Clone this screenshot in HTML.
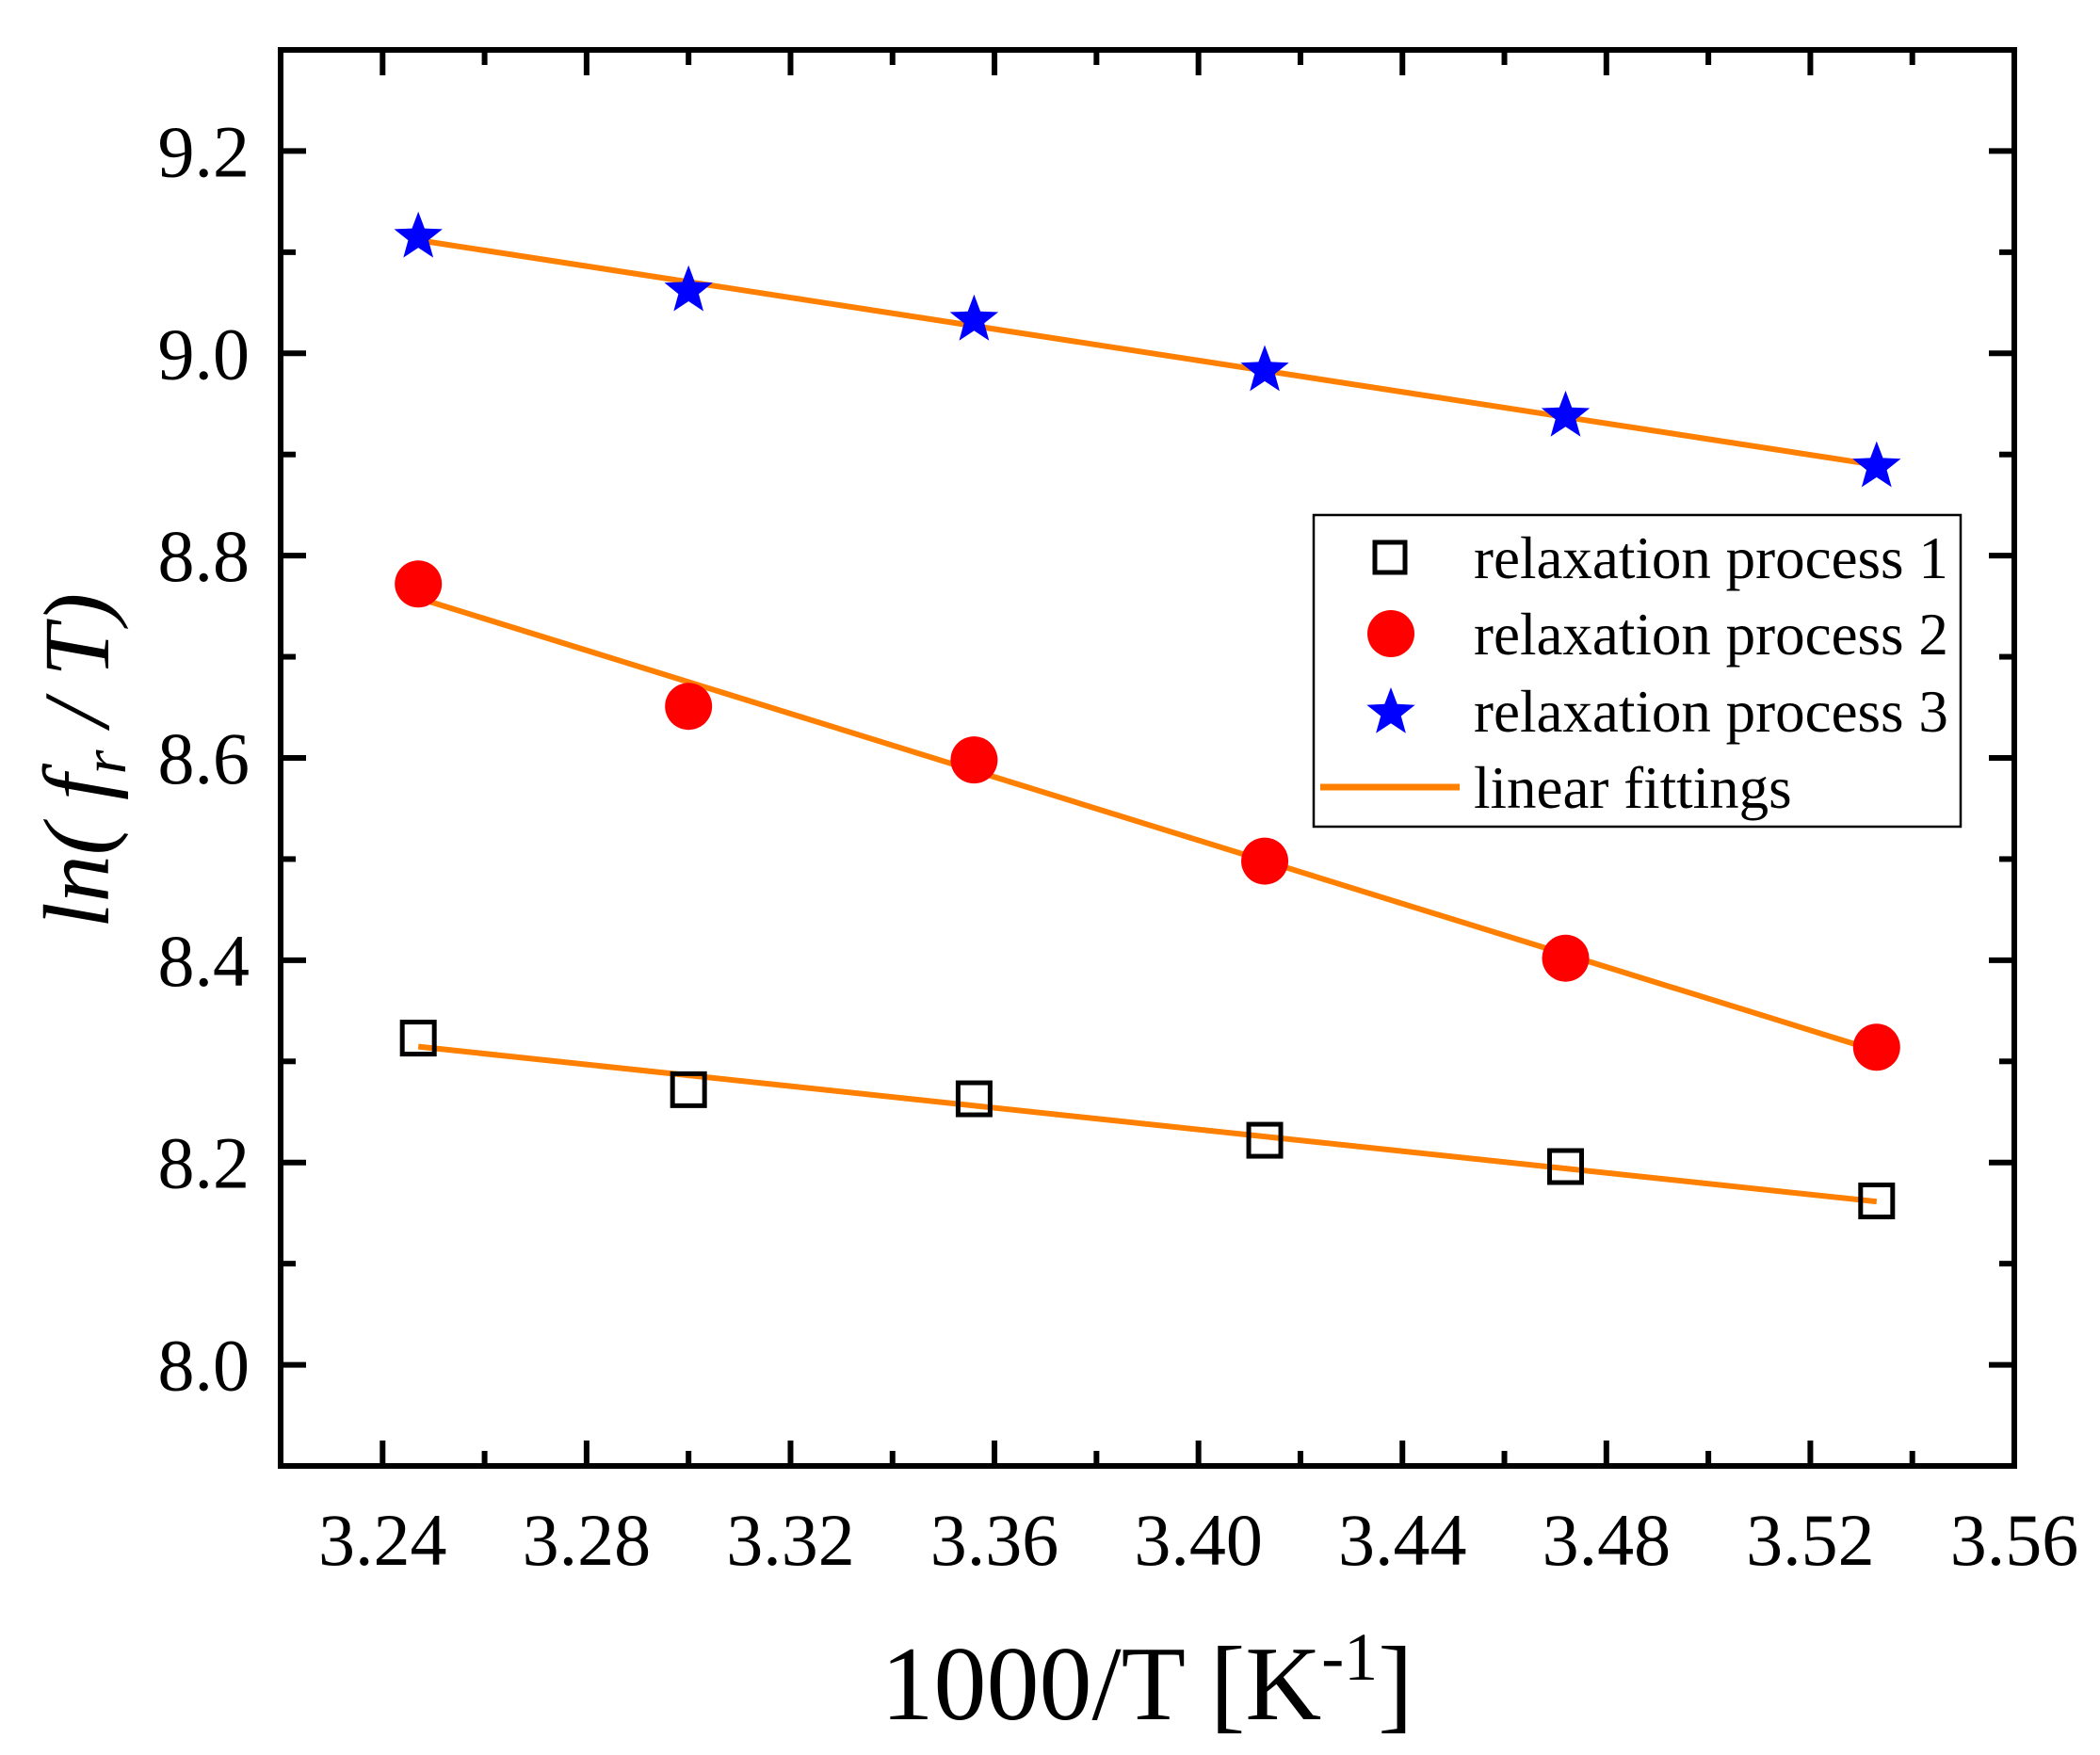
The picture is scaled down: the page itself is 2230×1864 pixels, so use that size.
<!DOCTYPE html>
<html><head><meta charset="utf-8">
<style>
html,body{margin:0;padding:0;background:#fff;}
svg{display:block;font-family:"Liberation Serif",serif;}
</style></head>
<body>
<svg id="chart" width="2230" height="1864" viewBox="0 0 2230 1864" xmlns="http://www.w3.org/2000/svg">
<rect x="0" y="0" width="2230" height="1864" fill="#fff"/>
<g id="marks"></g>
<g id="axes"></g>
<g id="legend"></g>
</svg>
<script>
const xValues = [3.247, 3.300, 3.356, 3.413, 3.472, 3.533];
const process1 = [8.323, 8.272, 8.263, 8.222, 8.196, 8.162];
const process2 = [8.772, 8.651, 8.598, 8.498, 8.402, 8.314];
const process3 = [9.115, 9.062, 9.033, 8.983, 8.938, 8.888];
const xTicks = [3.24, 3.28, 3.32, 3.36, 3.40, 3.44, 3.48, 3.52, 3.56];
const xTickLabels = ["3.24","3.28","3.32","3.36","3.40","3.44","3.48","3.52","3.56"];
const yTicks = [8.0, 8.2, 8.4, 8.6, 8.8, 9.0, 9.2];
const yTickLabels = ["8.0","8.2","8.4","8.6","8.8","9.0","9.2"];
const legendLabels = ["relaxation process 1","relaxation process 2","relaxation process 3","linear fittings"];

const NS = "http://www.w3.org/2000/svg";
const L = 298, R = 2139, T = 53, B = 1557;
const XMIN = 3.22, XMAX = 3.56, YMIN = 7.9, YMAX = 9.3;
const ORANGE = "#ff8000";
function sx(v){ return L + (v - XMIN) / (XMAX - XMIN) * (R - L); }
function sy(v){ return B - (v - YMIN) / (YMAX - YMIN) * (B - T); }
function mk(tag, attrs, parent){
  const e = document.createElementNS(NS, tag);
  for (const k in attrs) e.setAttribute(k, attrs[k]);
  parent.appendChild(e);
  return e;
}
const marks = document.getElementById('marks');
const axes = document.getElementById('axes');
const legend = document.getElementById('legend');

function fit(xs, ys){
  const n = xs.length;
  let mx = 0, my = 0;
  for (let i = 0; i < n; i++){ mx += xs[i]; my += ys[i]; }
  mx /= n; my /= n;
  let num = 0, den = 0;
  for (let i = 0; i < n; i++){ num += (xs[i]-mx)*(ys[i]-my); den += (xs[i]-mx)*(xs[i]-mx); }
  const b = num/den; return [b, my - b*mx];
}
function starPath(cx, cy, r){
  let d = "";
  for (let i = 0; i < 10; i++){
    const a = -Math.PI/2 + i*Math.PI/5;
    const rr = i % 2 === 0 ? r : r*0.42;
    d += (i ? "L" : "M") + (cx + rr*Math.cos(a)).toFixed(1) + "," + (cy + rr*Math.sin(a)).toFixed(1);
  }
  return d + "Z";
}

[process1, process2, process3].forEach(function(ys, k){
  const f = fit(xValues, ys);
  const x0 = xValues[0], x1 = xValues[xValues.length-1];
  const ln = mk('line', {x1: sx(x0), y1: sy(f[1]+f[0]*x0), x2: sx(x1), y2: sy(f[1]+f[0]*x1), stroke: ORANGE, 'stroke-width': 6}, marks);
  
  
});

xValues.forEach(function(x, i){
  const s = 34;
  const e = mk('rect', {x: sx(x)-s/2, y: sy(process1[i])-s/2, width: s, height: s, fill: 'none', stroke: '#000', 'stroke-width': 5}, marks);
  
  
});
xValues.forEach(function(x, i){
  const e = mk('ellipse', {cx: sx(x), cy: sy(process2[i]), rx: 25, ry: 25, fill: '#ff0000'}, marks);
  
  
});
xValues.forEach(function(x, i){
  const e = mk('path', {d: starPath(sx(x), sy(process3[i]), 27), fill: '#0000ff'}, marks);
  
  
});

const fr = mk('rect', {x: L, y: T, width: R-L, height: B-T, fill: 'none', stroke: '#000', 'stroke-width': 6}, axes);



xTicks.forEach(function(v, i){
  const x = sx(v);
  [[B, -1], [T, 1]].forEach(function(p){
    const t = mk('line', {x1: x, y1: p[0], x2: x, y2: p[0] + p[1]*27, stroke: '#000', 'stroke-width': 6}, axes);
    
    
  });
  const lb = mk('text', {x: x, y: 1662, 'font-size': 78, 'text-anchor': 'middle', fill: '#000'}, axes);
  lb.textContent = xTickLabels[i];
  
  
  if (i < xTicks.length - 1){
    const xm = sx((v + xTicks[i+1]) / 2);
    [[B, -1], [T, 1]].forEach(function(p){
      const t = mk('line', {x1: xm, y1: p[0], x2: xm, y2: p[0] + p[1]*16, stroke: '#000', 'stroke-width': 6}, axes);
      
      
    });
  }
});
{
  const xm = sx(xTicks[0] - 0.02);
  [[B, -1], [T, 1]].forEach(function(p){
    const t = mk('line', {x1: xm, y1: p[0], x2: xm, y2: p[0] + p[1]*16, stroke: '#000', 'stroke-width': 6}, axes);
    
    
  });
}
yTicks.forEach(function(v, i){
  const y = sy(v);
  [[L, 1], [R, -1]].forEach(function(p){
    const t = mk('line', {x1: p[0], y1: y, x2: p[0] + p[1]*27, y2: y, stroke: '#000', 'stroke-width': 6}, axes);
    
    
  });
  const lb = mk('text', {x: 265, y: y + 27, 'font-size': 78, 'text-anchor': 'end', fill: '#000'}, axes);
  lb.textContent = yTickLabels[i];
  
  
});
[7.9, 8.1, 8.3, 8.5, 8.7, 8.9, 9.1, 9.3].forEach(function(v){
  const y = sy(v);
  [[L, 1], [R, -1]].forEach(function(p){
    const t = mk('line', {x1: p[0], y1: y, x2: p[0] + p[1]*16, y2: y, stroke: '#000', 'stroke-width': 6}, axes);
    
    
  });
});

const xt = mk('text', {x: 1218, y: 1826, 'font-size': 112, 'text-anchor': 'middle', fill: '#000'}, axes);


xt.innerHTML = '1000/T [K<tspan dy="-42" font-size="72">-1</tspan><tspan dy="42">]</tspan>';

const yt = mk('text', {x: 0, y: 0, 'font-size': 100, 'font-style': 'italic', 'text-anchor': 'middle', fill: '#000', transform: 'translate(115,808) rotate(-90)'}, axes);


yt.innerHTML = 'ln( f<tspan dy="18" font-size="66">r</tspan><tspan dy="-18"> / T)</tspan>';

const lbox = mk('rect', {x: 1395, y: 547, width: 687, height: 331, fill: '#fff', stroke: '#000', 'stroke-width': 2.5}, legend);


const rowY = [592, 673, 755, 836];
const ls = mk('rect', {x: 1460, y: 576, width: 32, height: 32, fill: 'none', stroke: '#000', 'stroke-width': 5}, legend);


const lc = mk('ellipse', {cx: 1477, cy: 673, rx: 25, ry: 25, fill: '#ff0000'}, legend);


const lst = mk('path', {d: starPath(1477, 757, 27), fill: '#0000ff'}, legend);


const ll = mk('line', {x1: 1402, y1: 836, x2: 1550, y2: 836, stroke: ORANGE, 'stroke-width': 7}, legend);


legendLabels.forEach(function(s, i){
  const t = mk('text', {x: 1565, y: rowY[i] + 22, 'font-size': 63, fill: '#000'}, legend);
  t.textContent = s;
  
  
});
</script>
</body></html>
